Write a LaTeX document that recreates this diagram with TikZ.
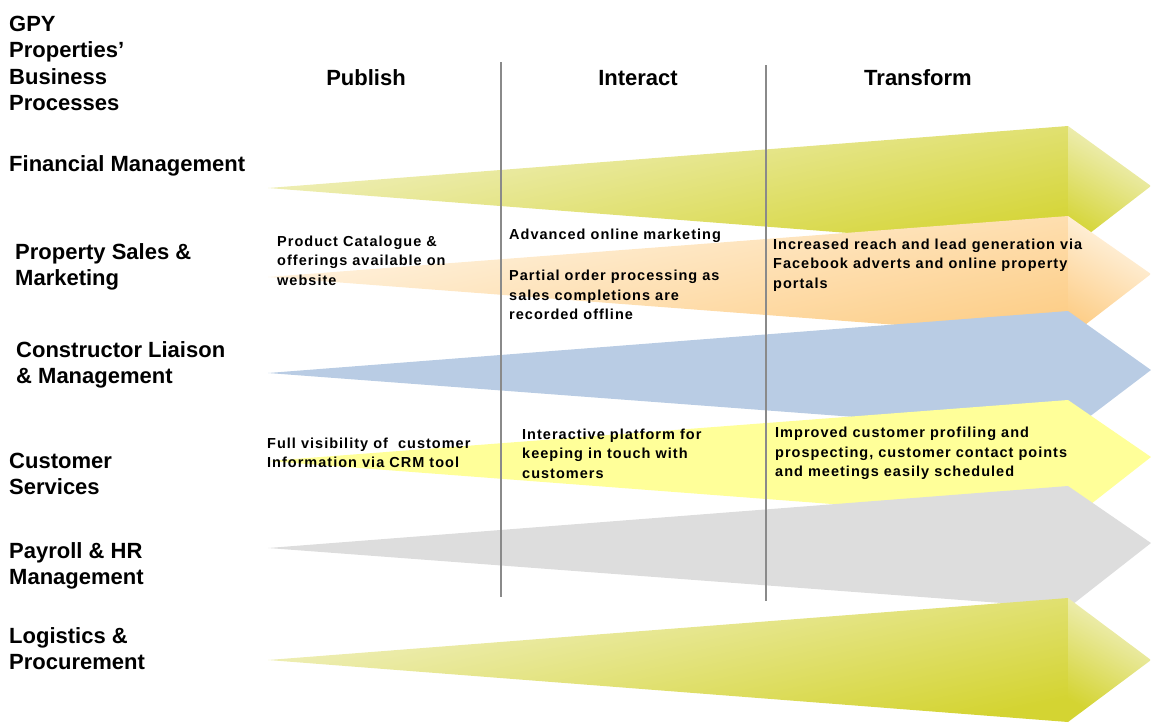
\documentclass[tikz,border=0pt]{standalone}
\usepackage{fontspec}
\setmainfont{Liberation Sans}
\newfontfamily\notefont[LetterSpace=7]{Liberation Sans}
\usetikzlibrary{positioning}

\definecolor{olivelight}{HTML}{F2F2CA}
\definecolor{olivedark}{HTML}{D4D432}
\definecolor{orangelight}{HTML}{FFF6E8}
\definecolor{orangedark}{HTML}{FDCE88}
\definecolor{bluefill}{HTML}{B9CCE4}
\definecolor{yellowfill}{HTML}{FFFF99}
\definecolor{greyfill}{HTML}{DDDDDD}
\definecolor{linegrey}{HTML}{8A8A8A}

\begin{document}
\begin{tikzpicture}[x=1pt, y=-1pt,
  heading/.style={font=\fontsize{22}{26.5}\selectfont\bfseries, anchor=base, inner sep=0pt},
  rowlabel/.style={font=\fontsize{22}{26.5}\selectfont\bfseries, anchor=base west, align=left, inner sep=0pt},
  note/.style={font=\notefont\fontsize{14.5}{19.5}\selectfont\bfseries, anchor=base west, align=left, inner sep=0pt},
  divider/.style={draw=linegrey, line width=1.5pt}]
  \useasboundingbox (0,0) rectangle (1151,724);

  % --- Process arrows ---

  % Financial Management
  \shade[top color=olivelight, bottom color=olivedark, shading angle=12] (268,188) -- (1068,126) -- (1068,250) -- cycle;
  \shade[top color=olivelight, bottom color=olivedark, shading angle=-30] (1068,126) -- (1151,186) -- (1068,250) -- cycle;

  % Property Sales & Marketing
  \shade[top color=orangelight, bottom color=orangedark, shading angle=12] (268,277) -- (1068,216) -- (1068,338) -- cycle;
  \shade[top color=orangelight, bottom color=orangedark, shading angle=-30] (1068,216) -- (1151,274) -- (1068,338) -- cycle;

  % Constructor Liaison & Management
  \fill[bluefill] (268,373) -- (1068,311) -- (1151,370) -- (1068,433) -- cycle;

  % Customer Services
  \fill[yellowfill] (268,461) -- (1068,400) -- (1151,457) -- (1068,522) -- cycle;

  % Payroll & HR Management
  \fill[greyfill] (268,548) -- (1068,486) -- (1151,543) -- (1068,608) -- cycle;

  % Logistics & Procurement
  \shade[top color=olivelight, bottom color=olivedark, shading angle=12] (268,660) -- (1068,598) -- (1068,722) -- cycle;
  \shade[top color=olivelight, bottom color=olivedark, shading angle=-30] (1068,598) -- (1151,660) -- (1068,722) -- cycle;

  % --- Column dividers ---
  \coordinate (divA top) at (501,62);
  \coordinate (divA bot) at (501,597);
  \coordinate (divB top) at (766,65);
  \coordinate (divB bot) at (766,601);
  \draw[divider] (divA top) -- (divA bot);
  \draw[divider] (divB top) -- (divB bot);

  % --- Headings ---
  \node[heading] (publish) at (366,85) {Publish};
  \node[heading] (interact) at (638,85) {Interact};
  \node[heading] (transform) at (918,85) {Transform};

  % --- Business processes (placed by last baseline) ---
  \node[rowlabel] (gpy) at (9,110.5) {GPY\\Properties'\\Business\\Processes};
  \node[rowlabel] (fin) at (9,171) {Financial Management};
  \node[rowlabel] (sales) at (15,285.5) {Property Sales \&\\Marketing};
  \node[rowlabel] (constr) at (16,383.5) {Constructor Liaison\\\& Management};
  \node[rowlabel] (cust) at (9,494.5) {Customer\\Services};
  \node[rowlabel] (payroll) at (9,584.5) {Payroll \& HR\\Management};
  \node[rowlabel] (logist) at (9,669.5) {Logistics \&\\Procurement};

  % --- Notes ---
  \node[note] (salesA) at (277,285) {Product Catalogue \&\\offerings available on\\website};
  \node[note] (salesB) at (509,239) {Advanced online marketing};
  \node[note] (salesC) at (509,319.5) {Partial order processing as\\sales completions are\\recorded offline};
  \node[note] (salesD) at (773,288) {Increased reach and lead generation via\\Facebook adverts and online property\\portals};

  \node[note] (custA) at (267,467.5) {Full visibility of \ customer\\Information via CRM tool};
  \node[note] (custB) at (522,478) {Interactive platform for\\keeping in touch with\\customers};
  \node[note] (custC) at (775,476.5) {Improved customer profiling and\\prospecting, customer contact points\\and meetings easily scheduled};

\end{tikzpicture}
\end{document}
